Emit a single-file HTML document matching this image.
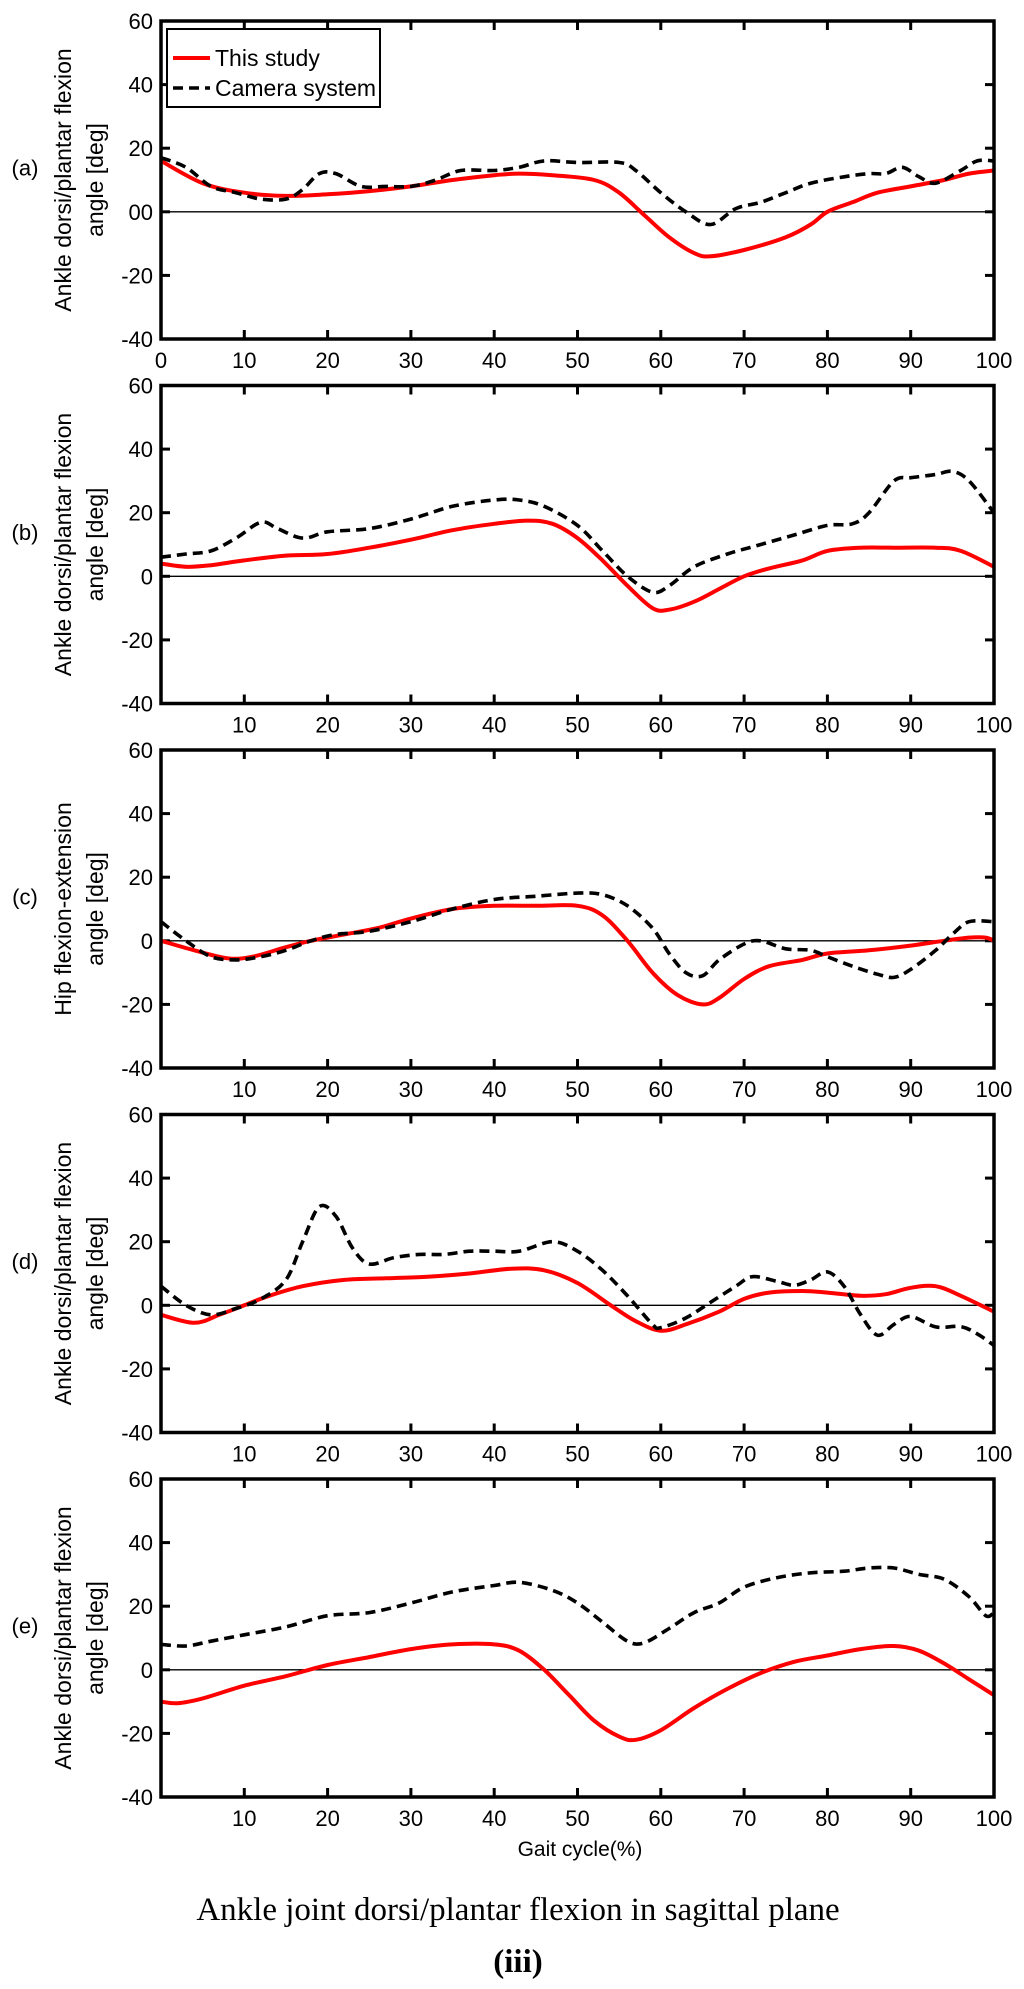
<!DOCTYPE html>
<html><head><meta charset="utf-8"><style>
html,body{margin:0;padding:0;background:#fff;}
svg{display:block;font-family:"Liberation Sans",Arial,sans-serif;}
</style></head><body>
<svg id="chart" width="1024" height="1989" viewBox="0 0 1024 1989" xmlns="http://www.w3.org/2000/svg">
<g id="panels"></g>
<text x="580" y="1856" font-size="21" text-anchor="middle">Gait cycle(%)</text>
<text x="518" y="1920" font-family="Liberation Serif, serif" font-size="33" text-anchor="middle">Ankle joint dorsi/plantar flexion in sagittal plane</text>
<text x="518" y="1972" font-family="Liberation Serif, serif" font-size="33" font-weight="bold" text-anchor="middle">(iii)</text>
</svg>
<script>
const xTicks = [0,10,20,30,40,50,60,70,80,90,100];
const yTicks = [-40,-20,0,20,40,60];
const panelLetters = ["(a)","(b)","(c)","(d)","(e)"];
const yTitles1 = ["Ankle dorsi/plantar flexion","Ankle dorsi/plantar flexion","Hip flexion-extension","Ankle dorsi/plantar flexion","Ankle dorsi/plantar flexion"];
const aRedX=[0,5,10,15,20,25,30,35,40,43,47,52,55,58,61,64,66,70,75,78,80,83,86,90,94,97,100];
const aRedY=[16,9,6,5,5.5,6.5,8,10,11.5,12,11.5,10,6,-1,-8,-13,-14,-12,-8,-4,0,3,6,8,10,12,13];
const aCamX=[0,3,6,9,12,15,17,19,21,24,27,30,33,36,40,43,46,50,55,57,60,63,66,69,72,75,78,82,85,87,89,91,93,96,98,100];
const aCamY=[17,14,8,6,4,4,7,12,12,8,8,8,10,13,13,14,16,15.5,15.5,13,6,0,-4,1,3,6,9,11,12,12,14,11,9,13,16,16];
const bRedX=[0,3,6,10,15,20,25,30,35,40,44,47,50,53,56,59,61,64,67,70,73,77,80,84,88,93,96,100];
const bRedY=[4,3,3.5,5,6.5,7,9,11.5,14.5,16.5,17.5,16.5,12,5,-3,-10,-10.5,-8,-4,0,2.5,5,8,9,9,9,8,3];
const bCamX=[0,3,6,9,12,14,17,20,25,30,35,40,43,46,50,53,56,59,61,64,68,72,76,80,83,85,88,90,93,95,97,100];
const bCamY=[6,7,8,12,17,15,12,14,15,18,22,24,24,22,16,8,0,-5,-3,3,7,10,13,16,16.5,20,30,31,32,33,30,20];
const cRedX=[0,4,8,11,15,18,22,26,30,35,40,45,50,53,56,59,62,65,67,70,73,77,80,85,90,94,97,99,100];
const cRedY=[0,-3,-5.5,-5,-2,0,2,4,7,10,11,11,11,8,0,-10,-17,-20,-18,-12,-8,-6,-4,-3,-1.5,0,1,1,0];
const cCamX=[0,3,6,9,12,15,18,21,25,30,35,40,45,50,53,56,59,61,63,65,67,70,72,75,78,80,83,86,88,90,93,95,97,100];
const cCamY=[6,0,-5,-6,-5,-3,0,2,3,6,10,13,14,15,14.5,11,4,-4,-10,-11,-6,-1,0,-2.5,-3,-5,-8,-10.5,-11.5,-9,-3,2,6,6];
const dRedX=[0,4,7,10,13,17,22,27,32,37,42,46,50,54,57,60,63,67,70,73,77,80,84,87,90,93,96,100];
const dRedY=[-3,-5.5,-3,0,3,6,8,8.5,9,10,11.5,11,7,0,-5,-8,-6,-2,2,4,4.5,4,3,3.5,5.5,6,3,-2];
const dCamX=[0,3,6,9,12,15,17,19,21,23,25,28,31,34,37,40,43,47,50,53,56,59,60,63,66,69,71,74,76,78,80,82,84,86,88,90,93,96,98,100];
const dCamY=[6,0,-3,-1,2,8,20,31,28,18,13,15,16,16,17,17,17,20,17,11,3,-6,-7,-4,1,6,9,7.5,6.3,8,10.5,6,-3,-9.4,-6,-3.5,-6.8,-6.7,-9,-12.6];
const eRedX=[0,2,5,10,15,20,25,30,35,40,43,46,49,52,55,57,60,64,68,72,76,80,84,88,91,94,97,100];
const eRedY=[-10,-10.5,-9,-5,-2,1.5,4,6.5,8,8,6,0,-8,-16,-21,-22,-19,-12,-6,-1,2.5,4.5,6.5,7.5,6,2,-3,-8];
const eCamX=[0,3,6,10,15,20,25,30,35,40,43,47,50,53,56,58,61,64,67,70,74,78,82,85,88,91,94,97,99,100];
const eCamY=[8,7.5,9,11,13.5,17,18,21,24.5,26.5,27.5,25,21,15,9,8.5,13,18,21,26,29,30.5,31,32,32,30,28.5,23,17,18];
const redXs=[aRedX,bRedX,cRedX,dRedX,eRedX], redYs=[aRedY,bRedY,cRedY,dRedY,eRedY];
const camXs=[aCamX,bCamX,cCamX,dCamX,eCamX], camYs=[aCamY,bCamY,cCamY,dCamY,eCamY];

const NS="http://www.w3.org/2000/svg";
const L=161, R=994, H=318, TOP0=21, GAP=364.5;
function el(tag, attrs, parent){const e=document.createElementNS(NS,tag);for(const k in attrs)e.setAttribute(k,attrs[k]);parent.appendChild(e);return e;}
function path(xs,ys,sx,sy){
  const p=xs.map((x,i)=>[sx(x),sy(ys[i])]);
  let d="M"+p[0][0].toFixed(1)+","+p[0][1].toFixed(1);
  for(let i=0;i<p.length-1;i++){
    const p0=p[i-1]||p[i],p1=p[i],p2=p[i+1],p3=p[i+2]||p2;
    const c1=[p1[0]+(p2[0]-p0[0])/6,p1[1]+(p2[1]-p0[1])/6];
    const c2=[p2[0]-(p3[0]-p1[0])/6,p2[1]-(p3[1]-p1[1])/6];
    d+="C"+c1[0].toFixed(1)+","+c1[1].toFixed(1)+" "+c2[0].toFixed(1)+","+c2[1].toFixed(1)+" "+p2[0].toFixed(1)+","+p2[1].toFixed(1);
  }
  return d;
}
const root=document.getElementById("panels");
for(let k=0;k<5;k++){
  const top=TOP0+k*GAP, bot=top+H;
  const sx=v=>L+(v/100)*(R-L);
  const sy=v=>bot-((v+40)/100)*H;
  const g=el("g",{},root);
  
  
  const z=el("line",{x1:L,x2:R,y1:sy(0),y2:sy(0),stroke:"#000","stroke-width":1.3},g);
  
  
  xTicks.forEach(t=>{
    el("line",{x1:sx(t),x2:sx(t),y1:bot,y2:bot-9,stroke:"#000","stroke-width":3},g);
    el("line",{x1:sx(t),x2:sx(t),y1:top,y2:top+9,stroke:"#000","stroke-width":3},g);
    if(k===0||t>0){
      const tx=el("text",{x:sx(t),y:bot+29,"font-size":22,"text-anchor":"middle"},g);
      tx.textContent=t;
      
      
    }
  });
  yTicks.forEach(t=>{
    el("line",{x1:L,x2:L+9,y1:sy(t),y2:sy(t),stroke:"#000","stroke-width":3},g);
    el("line",{x1:R,x2:R-9,y1:sy(t),y2:sy(t),stroke:"#000","stroke-width":3},g);
    const ty=el("text",{x:L-8,y:sy(t)+8,"font-size":22,"text-anchor":"end"},g);
    ty.textContent=(k===0&&t===0)?"00":t;
    
    
  });
  const rp=el("path",{d:path(redXs[k],redYs[k],sx,sy),fill:"none",stroke:"#ff0000","stroke-width":4},g);
  
  
  const cp=el("path",{d:path(camXs[k],camYs[k],sx,sy),fill:"none",stroke:"#000","stroke-width":3.6,"stroke-dasharray":"10 6"},g);
  
  
  const fr=el("rect",{x:L,y:top,width:R-L,height:H,fill:"none",stroke:"#000","stroke-width":3.5},g);
  
  
  const cy=sy(10);
  const t1=el("text",{x:0,y:0,"font-size":23,"text-anchor":"middle",transform:`translate(71,${cy}) rotate(-90)`},g);
  t1.textContent=yTitles1[k];
  
  
  const t2=el("text",{x:0,y:0,"font-size":23,"text-anchor":"middle",transform:`translate(103,${cy}) rotate(-90)`},g);
  t2.textContent="angle [deg]";
  
  
  const pl=el("text",{x:25,y:sy(14)+8,"font-size":22,"text-anchor":"middle"},g);
  pl.textContent=panelLetters[k];
  
  
  if(k===0){
    const lg=el("g",{},g);
    
    
    el("rect",{x:167,y:29,width:213,height:78,fill:"#fff",stroke:"#000","stroke-width":2},lg);
    el("line",{x1:173,x2:210,y1:58,y2:58,stroke:"#ff0000","stroke-width":4},lg);
    el("line",{x1:173,x2:210,y1:88,y2:88,stroke:"#000","stroke-width":3.6,"stroke-dasharray":"10 6"},lg);
    const l1=el("text",{x:215,y:66,"font-size":23},lg);l1.textContent="This study";
    
    
    const l2=el("text",{x:215,y:96,"font-size":23},lg);l2.textContent="Camera system";
    
    
  }
}
</script>
</body></html>
